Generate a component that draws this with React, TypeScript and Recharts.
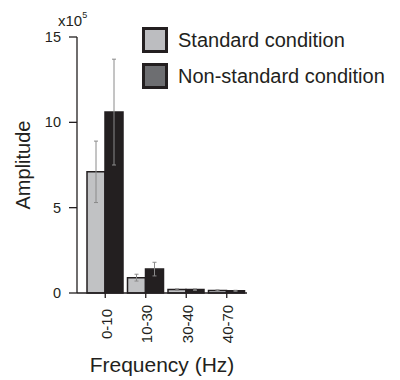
import React from "react";
import { BarChart, Bar, XAxis, YAxis, ErrorBar, Legend, Label } from "recharts";

const categories = ["0-10", "10-30", "30-40", "40-70"];
const standardValues = [7.1, 0.9, 0.2, 0.15];
const standardErrors = [1.8, 0.2, 0.04, 0.03];
const nonStandardValues = [10.6, 1.4, 0.2, 0.13];
const nonStandardErrors = [3.1, 0.4, 0.04, 0.03];
const yTicks = [0, 5, 10, 15];

const seriesNames = ["Standard condition", "Non-standard condition"];
const LEGEND_FILLS = ["#bcbdc0", "#6d6e71"];

const FONT = "'Liberation Sans', Arial, Helvetica, sans-serif";
const INK = "#231f20";

const data = categories.map((cat, i) => ({
  cat,
  standard: standardValues[i],
  standardErr: standardErrors[i],
  nonStandard: nonStandardValues[i],
  nonStandardErr: nonStandardErrors[i],
}));

function RotatedTick(props: any) {
  const { x, payload } = props;
  const cy = 324;
  return (
    <text
      x={x + 1}
      y={cy}
      transform={`rotate(-90, ${x + 1}, ${cy})`}
      textAnchor="middle"
      dominantBaseline="central"
      fontSize={15}
      fontFamily={FONT}
      fill={INK}
    >
      {payload.value}
    </text>
  );
}

function LegendBox() {
  return (
    <div style={{ fontFamily: FONT, color: INK }}>
      {seriesNames.map((name, i) => (
        <div
          key={name}
          style={{ display: "flex", alignItems: "center", height: 36 }}
        >
          <div
            style={{
              width: 20,
              height: 20,
              border: `3px solid ${INK}`,
              background: LEGEND_FILLS[i],
              marginRight: 10,
            }}
          />
          <span style={{ fontSize: 20, lineHeight: "20px" }}>{name}</span>
        </div>
      ))}
    </div>
  );
}

export default function App() {
  return (
    <div style={{ position: "absolute", left: 0, top: 0, background: "#fff" }}>
      <BarChart
        width={400}
        height={380}
        data={data}
        margin={{ top: 37, right: 153, left: 0, bottom: 0 }}
        barCategoryGap={2}
        barGap={0}
      >
        <XAxis
          dataKey="cat"
          height={87}
          padding={{ left: 8, right: 0 }}
          tickSize={5}
          axisLine={{ stroke: INK, strokeWidth: 1.3 }}
          tickLine={{ stroke: INK, strokeWidth: 1.3 }}
          tick={<RotatedTick />}
          interval={0}
        >
          <Label
            content={(p: any) => {
              const vb = p.viewBox;
              return (
                <text
                  x={vb.x + vb.width / 2}
                  y={372}
                  textAnchor="middle"
                  fontSize={21}
                  fontFamily={FONT}
                  fill={INK}
                >
                  Frequency (Hz)
                </text>
              );
            }}
          />
        </XAxis>
        <YAxis
          width={77}
          domain={[0, 15]}
          ticks={yTicks}
          tickSize={8}
          tickMargin={8}
          axisLine={{ stroke: INK, strokeWidth: 1.3 }}
          tickLine={{ stroke: INK, strokeWidth: 1.3 }}
          tick={{ fontSize: 14.5, fontFamily: FONT, fill: INK }}
        >
          <Label
            content={(p: any) => {
              const vb = p.viewBox;
              const cy = vb.y + vb.height / 2;
              return (
                <text
                  x={23}
                  y={cy}
                  transform={`rotate(-90, 23, ${cy})`}
                  textAnchor="middle"
                  dominantBaseline="central"
                  fontSize={20}
                  fontFamily={FONT}
                  fill={INK}
                >
                  Amplitude
                </text>
              );
            }}
          />
          <Label
            content={() => (
              <text x={58} y={26} fontSize={15} fontFamily={FONT} fill={INK}>
                x10
                <tspan fontSize={9} dy={-8}>
                  5
                </tspan>
              </text>
            )}
          />
        </YAxis>
        <Legend
          layout="vertical"
          align="center"
          verticalAlign="middle"
          wrapperStyle={{ position: "absolute", left: 142, top: 22, width: 260 }}
          content={() => <LegendBox />}
        />
        <Bar
          dataKey="standard"
          name={seriesNames[0]}
          fill="#c1c2c4"
          stroke={INK}
          strokeWidth={1.5}
          isAnimationActive={false}
        >
          <ErrorBar dataKey="standardErr" stroke="#8a8a8a" strokeWidth={1} width={2} />
        </Bar>
        <Bar
          dataKey="nonStandard"
          name={seriesNames[1]}
          fill={INK}
          stroke={INK}
          strokeWidth={1.5}
          isAnimationActive={false}
        >
          <ErrorBar dataKey="nonStandardErr" stroke="#8a8a8a" strokeWidth={1} width={2} />
        </Bar>
      </BarChart>
    </div>
  );
}
